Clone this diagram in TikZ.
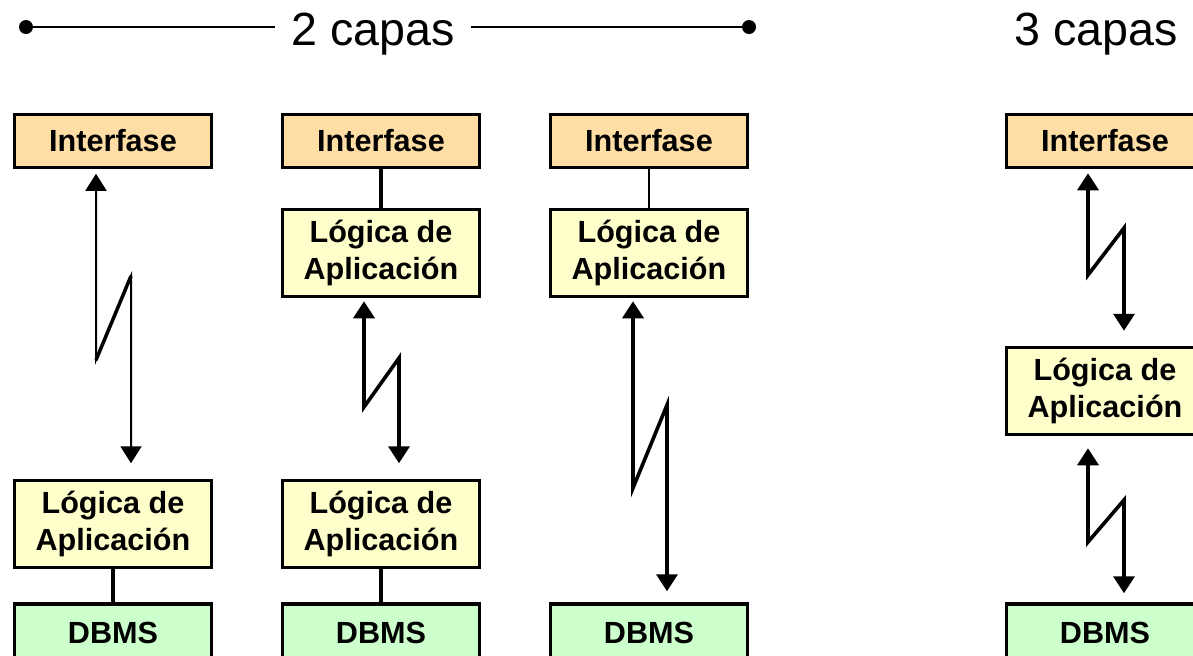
\documentclass[tikz,border=0pt]{standalone}
\usepackage{fontspec}
\setmainfont{Liberation Sans}
\usetikzlibrary{arrows.meta,calc}
\definecolor{ifacefill}{RGB}{255,222,166}
\definecolor{logicfill}{RGB}{255,255,204}
\definecolor{dbfill}{RGB}{204,255,204}

\begin{document}
\begin{tikzpicture}[x=0.5pt,y=-0.5pt,
  tier/.style={draw=black, line width=1.75pt, minimum width=98.5pt, inner sep=0pt,
    font=\fontsize{15.3}{18.5}\selectfont\bfseries, align=center},
  iface/.style={tier, fill=ifacefill, minimum height=26.5pt},
  logic/.style={tier, fill=logicfill, minimum height=43.5pt},
  dbms/.style={tier, fill=dbfill, minimum height=29pt},
  link/.style={line width=1.75pt},
  thinlink/.style={line width=0.75pt},
  netarrow/.style={line width=1.8pt,
    {Triangle[width=10.5pt,length=8.5pt]}-{Triangle[width=10.5pt,length=8.5pt]}},
  title/.style={font=\fontsize{23.3}{28}\selectfont},
  rule/.style={line width=1.2pt},
  enddot/.style={circle, fill=black, inner sep=0pt, minimum size=7pt},
]
\clip (0,0) rectangle (1193,655);

% header: two-tier bracket and three-tier label
\node[enddot] (ldot) at (26,27) {};
\node[title, anchor=base, inner xsep=8pt] (t2) at (373,45) {2 capas};
\node[enddot] (rdot) at (749,27) {};
\draw[rule] (ldot.center) -- (ldot -| t2.west);
\draw[rule] (t2.east |- rdot) -- (rdot.center);
\node[title, anchor=base] (t3) at (1096,45) {3 capas};

% column 1: remote interface, local logic + DBMS
\node[iface] (i1) at (113,141) {Interfase};
\node[logic] (m1) at (113,524) {Lógica de\\Aplicación};
\node[dbms]  (db1) at (113,633) {DBMS};
\draw[link] (m1) -- (db1);
\draw[netarrow, line width=1pt] ($(i1.south)+(-17,4.5)$) -- (96,360) -- (131,276)
  -- ($(m1.north)+(18,-15.5)$);
\draw[link] (96,360) -- (131,276);

% column 2: logic split on both sides
\node[iface] (i2) at (381,141) {Interfase};
\node[logic] (l2) at (381,253) {Lógica de\\Aplicación};
\node[logic] (m2) at (381,524) {Lógica de\\Aplicación};
\node[dbms]  (db2) at (381,633) {DBMS};
\draw[link] (i2) -- (l2);
\draw[link] (m2) -- (db2);
\draw[netarrow] ($(l2.south)+(-17,3)$) -- (364,407) -- (399,358)
  -- ($(m2.north)+(18,-15.5)$);

% column 3: interface + logic, remote DBMS
\node[iface] (i3) at (649,141) {Interfase};
\node[logic] (l3) at (649,253) {Lógica de\\Aplicación};
\node[dbms]  (db3) at (649,633) {DBMS};
\draw[thinlink] (i3) -- (l3);
\draw[netarrow] ($(l3.south)+(-16,3)$) -- (633,488) -- (667,405)
  -- ($(db3.north)+(18,-11)$);

% column 4: three tiers
\node[iface] (i4) at (1105,141) {Interfase};
\node[logic] (l4) at (1105,391) {Lógica de\\Aplicación};
\node[dbms]  (db4) at (1105,633) {DBMS};
\draw[netarrow] ($(i4.south)+(-17,4)$) -- (1088,275) -- (1124,228)
  -- ($(l4.north)+(19,-15)$);
\draw[netarrow] ($(l4.south)+(-17,12)$) -- (1088,542) -- (1124,500)
  -- ($(db4.north)+(19,-9)$);
\end{tikzpicture}
\end{document}
